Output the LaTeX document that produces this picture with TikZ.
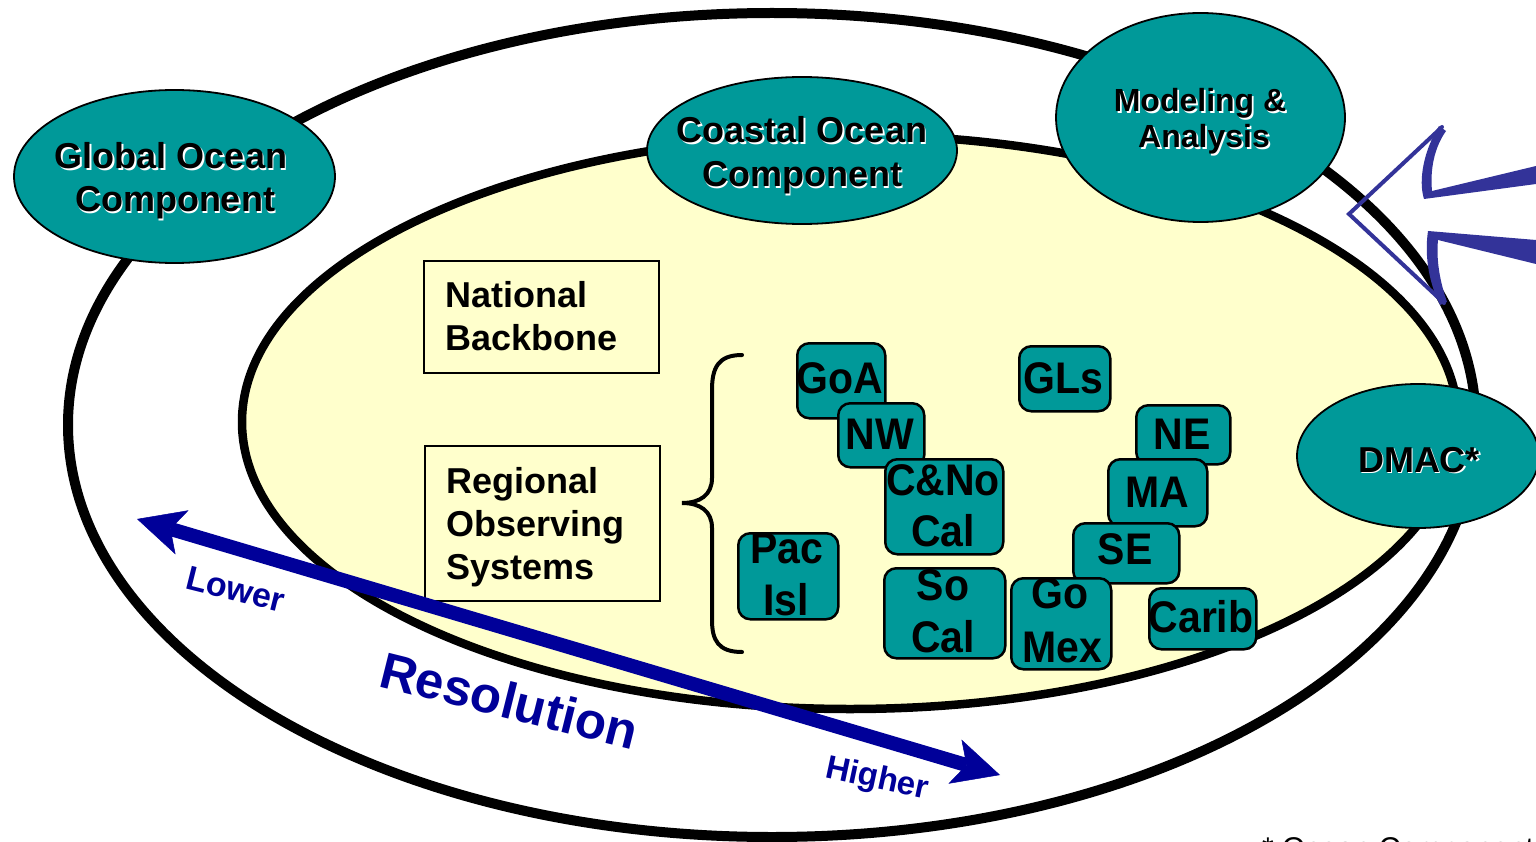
\documentclass[tikz,border=0pt]{standalone}
\usepackage{fontspec}
\usepackage{graphicx}
\setmainfont{Liberation Sans}
\usetikzlibrary{shapes.geometric,arrows.meta}
\definecolor{teal0}{RGB}{0,153,153}
\definecolor{ylw}{RGB}{255,255,204}
\definecolor{navy0}{RGB}{0,0,153}
\definecolor{slate}{RGB}{51,51,153}
\newcommand\shad[1]{\makebox[0pt][l]{\hspace{1.8pt}\raisebox{-1.8pt}{\textcolor{white}{#1}}}#1}
\newcommand\vs[1]{\scalebox{1}[1.08]{#1}}
\begin{document}
\begin{tikzpicture}[x=1pt,y=-1pt,
  comp/.style={ellipse, draw=black, line width=1.8pt, fill=teal0, inner sep=0pt},
  ctxt/.style={anchor=base, inner sep=0pt, font=\bfseries\fontsize{36}{43}\selectfont},
  mtxt/.style={anchor=base, inner sep=0pt, font=\bfseries\fontsize{32}{38}\selectfont},
  plainbox/.style={draw=black, line width=2pt, anchor=north west, inner sep=0pt},
  btxt/.style={anchor=base west, inner sep=0pt, font=\bfseries\fontsize{36}{43}\selectfont},
  rbox/.style={draw=black, line width=2.5pt, fill=teal0, rounded corners=12pt, inner sep=0pt, anchor=north west},
  rtxt/.style={anchor=base, inner sep=0pt, font=\bfseries\fontsize{41}{48}\selectfont},
  restxt/.style={anchor=base west, inner sep=0pt, text=navy0},
  resarrow/.style={navy0, line width=14pt,
    {Stealth[length=47pt,width=46pt,inset=12pt,line width=0.5pt]}-{Stealth[length=47pt,width=46pt,inset=12pt,line width=0.5pt]}}
]
\useasboundingbox (0,0) rectangle (1536,842);
\fill[white] (0,0) rectangle (1536,842);

% big ellipses
\node[ellipse, draw=black, line width=10pt, fill=white, inner sep=0pt,
      minimum width=1408pt, minimum height=824pt] (outer) at (772,425) {};
\node[ellipse, draw=black, line width=8.5pt, fill=ylw, inner sep=0pt,
      minimum width=1216pt, minimum height=574pt] (inner) at (850,422) {};

% component ellipses
\node[comp, minimum width=321pt, minimum height=173pt] (glob) at (174.5,176.5) {};
\node[ctxt] (glob1) at (171,169) {\shad{Global Ocean}};
\node[ctxt] (glob2) at (175,212) {\shad{Component}};

\node[comp, minimum width=310pt, minimum height=147pt] (coast) at (802,150.5) {};
\node[ctxt] (coast1) at (802,143) {\shad{Coastal Ocean}};
\node[ctxt] (coast2) at (802,187) {\shad{Component}};

\node[comp, minimum width=289pt, minimum height=209pt] (model) at (1200.5,117.5) {};
\node[mtxt] (model1) at (1200,112) {\shad{Modeling \&}};
\node[mtxt] (model2) at (1204,148) {\shad{Analysis}};

\node[comp, minimum width=242pt, minimum height=144pt] (dmac) at (1418,456) {};
\node[ctxt] (dmac1) at (1419,472) {\shad{DMAC*}};

% hollow block arrow (top right)
\draw[slate, line width=4pt, line join=miter, line cap=round] (1442,127) -- (1349,214) -- (1444,303);
\fill[slate] (1439,126) .. controls (1424,150) and (1418,180) .. (1424,199)
   -- (1536,184) -- (1536,166) -- (1432,191)
   .. controls (1430,170) and (1434,148) .. (1446,131) -- cycle;
\fill[slate] (1428,231) .. controls (1424,258) and (1430,285) .. (1440,305)
   -- (1447,302) .. controls (1440,282) and (1436,260) .. (1438,240)
   -- (1536,264) -- (1536,240) -- cycle;

% plain boxes
\node[plainbox, minimum width=235pt, minimum height=112pt] (nb) at (423,260) {};
\node[btxt] (nb1) at (445,307) {National};
\node[btxt] (nb2) at (445,350) {Backbone};

\node[plainbox, minimum width=235pt, minimum height=155pt] (ros) at (424,445) {};
\node[btxt] (ros1) at (446,493) {Regional};
\node[btxt] (ros2) at (446,536) {Observing};
\node[btxt] (ros3) at (446,579) {Systems};

% brace
\draw[black, line width=4pt, line cap=round]
  (742,355) .. controls (718,355) and (712,368) .. (712,390) -- (712,478)
  .. controls (712,495) and (700,503) .. (682,503)
  .. controls (700,503) and (712,511) .. (712,528) -- (712,620)
  .. controls (712,640) and (718,652) .. (742,652);

% regional boxes
\node[rbox, minimum width=88pt, minimum height=75pt] (goa) at (796,342) {};
\node[rtxt] (goat) at (840,393) {\vs{GoA}};
\node[rbox, minimum width=86pt, minimum height=64pt] (nw) at (837,402) {};
\node[rtxt] (nwt) at (880,449) {\vs{NW}};
\node[rbox, minimum width=118pt, minimum height=95pt] (cno) at (884,458) {};
\node[rtxt] (cnot1) at (943,495) {\vs{C\&No}};
\node[rtxt] (cnot2) at (943,546) {\vs{Cal}};
\node[rbox, minimum width=100pt, minimum height=86pt] (pac) at (737,532) {};
\node[rtxt] (pact1) at (787,563) {\vs{Pac}};
\node[rtxt] (pact2) at (786,615) {\vs{Isl}};
\node[rbox, minimum width=121pt, minimum height=90pt] (socal) at (883,567) {};
\node[rtxt] (socalt1) at (943,600) {\vs{So}};
\node[rtxt] (socalt2) at (943,652) {\vs{Cal}};
\node[rbox, minimum width=91pt, minimum height=65pt] (gls) at (1018,345) {};
\node[rtxt] (glst) at (1063,393) {\vs{GLs}};
\node[rbox, minimum width=94pt, minimum height=59pt] (ne) at (1135,404) {};
\node[rtxt] (net) at (1182,449) {\vs{NE}};
\node[rbox, minimum width=99pt, minimum height=67pt] (ma) at (1107,458) {};
\node[rtxt] (mat) at (1157,507) {\vs{MA}};
\node[rbox, minimum width=106pt, minimum height=60pt] (se) at (1072,522) {};
\node[rtxt] (set) at (1125,564) {\vs{SE}};
\node[rbox, minimum width=100pt, minimum height=91pt] (gomex) at (1010,577) {};
\node[rtxt] (gomext1) at (1060,608) {\vs{Go}};
\node[rtxt] (gomext2) at (1062,662) {\vs{Mex}};
\node[rbox, minimum width=107pt, minimum height=61pt] (carib) at (1148,587) {};
\node[rtxt] (caribt) at (1201,632) {\vs{Carib}};

% resolution arrow
\coordinate (lo) at (137,519);
\coordinate (hi) at (1000,775);
\draw[resarrow] (lo) -- (hi);
\node[restxt, rotate=-14, font=\bfseries\fontsize{51}{58}\selectfont] (res) at (377,686) {Resolution};
\node[restxt, rotate=-14, font=\bfseries\fontsize{34}{40}\selectfont] (lower) at (184,588) {Lower};
\node[restxt, rotate=-12, font=\bfseries\fontsize{33}{39}\selectfont] (higher) at (824,777) {Higher};

% footnote (cut at the edge, as in the reference)
\node[anchor=base west, inner sep=0pt, font=\fontsize{30}{36}\selectfont] (foot) at (1262,858) {* Ocean Component};
\end{tikzpicture}
\end{document}
